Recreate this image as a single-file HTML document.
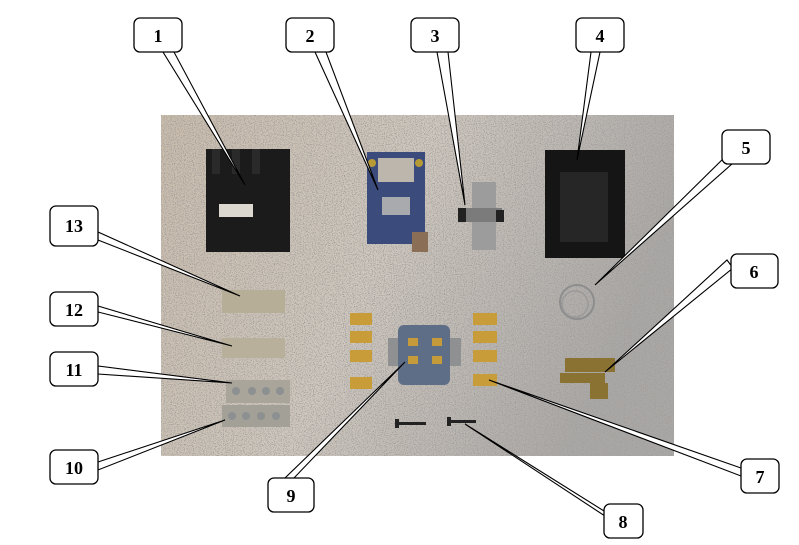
<!DOCTYPE html>
<html><head><meta charset="utf-8"><style>
html,body{margin:0;padding:0;background:#fff;}
svg{display:block}
text{font-family:"Liberation Serif",serif;font-weight:bold;font-size:18px}
</style></head><body>
<svg width="799" height="545" viewBox="0 0 799 545">
<defs>
<filter id="sp" x="0" y="0" width="100%" height="100%">
<feTurbulence type="fractalNoise" baseFrequency="0.9" numOctaves="2" seed="3" result="n"/>
<feColorMatrix in="n" type="matrix" values="0 0 0 0 0.35  0 0 0 0 0.33  0 0 0 0 0.32  0 0 -4 0 2.1" result="d"/>
<feComposite in="d" in2="SourceGraphic" operator="atop"/>
</filter>
<linearGradient id="bg" x1="0" y1="0" x2="1" y2="0.3">
<stop offset="0" stop-color="#c9bcab"/>
<stop offset="0.5" stop-color="#cfc8bf"/>
<stop offset="1" stop-color="#aaa8a6"/>
</linearGradient>
</defs>
<rect x="161" y="115" width="513" height="341" fill="url(#bg)" filter="url(#sp)"/>
<!-- 1 -->
<rect x="206" y="149" width="84" height="103" fill="#1c1b1b"/>
<rect x="212" y="149" width="8" height="25" fill="#2b2a2a"/><rect x="232" y="149" width="8" height="25" fill="#2b2a2a"/><rect x="252" y="149" width="8" height="25" fill="#2b2a2a"/>
<rect x="219" y="204" width="34" height="13" fill="#dcd8d0"/>
<!-- 2 -->
<rect x="367" y="152" width="58" height="92" fill="#3b4b7c"/>
<rect x="378" y="158" width="36" height="24" fill="#bdb6ac"/>
<rect x="382" y="197" width="28" height="18" fill="#a8aaae"/>
<rect x="412" y="232" width="16" height="20" fill="#8a6e55"/>
<circle cx="372" cy="163" r="4" fill="#b79a36"/><circle cx="419" cy="163" r="4" fill="#b79a36"/>
<!-- 3 -->
<rect x="472" y="182" width="24" height="68" fill="#9c9c9c"/>
<rect x="458" y="208" width="44" height="14" fill="#7b7b7b"/>
<rect x="458" y="208" width="8" height="14" fill="#222"/><rect x="496" y="210" width="8" height="12" fill="#222"/>
<!-- 4 -->
<rect x="545" y="150" width="80" height="108" fill="#151515"/>
<rect x="560" y="172" width="48" height="70" fill="#262626"/>
<!-- 5 spring -->
<circle cx="577" cy="302" r="17" fill="none" stroke="#8d8d8d" stroke-width="2"/>
<circle cx="575" cy="304" r="13" fill="none" stroke="#9a9a9a" stroke-width="1.5"/>
<!-- 6 screws -->
<g fill="#8a7233">
<rect x="565" y="358" width="50" height="14"/><rect x="560" y="373" width="45" height="10"/><rect x="590" y="383" width="18" height="16"/>
</g>
<!-- 13 12 11 10 -->
<rect x="222" y="290" width="63" height="23" fill="#b7ae98"/>
<rect x="222" y="338" width="63" height="20" fill="#b9b09b"/>
<rect x="226" y="380" width="64" height="23" fill="#a9a59b"/>
<rect x="222" y="405" width="68" height="22" fill="#a3a197"/>
<g fill="#8c9090"><circle cx="236" cy="391" r="4"/><circle cx="252" cy="391" r="4"/><circle cx="266" cy="391" r="4"/><circle cx="280" cy="391" r="4"/>
<circle cx="232" cy="416" r="4"/><circle cx="246" cy="416" r="4"/><circle cx="261" cy="416" r="4"/><circle cx="276" cy="416" r="4"/></g>
<!-- 9 -->
<rect x="388" y="338" width="12" height="28" fill="#8e9092"/><rect x="450" y="338" width="11" height="28" fill="#8e9092"/>
<rect x="398" y="325" width="52" height="60" rx="6" fill="#5d6e86"/>
<g fill="#c59a3a"><rect x="408" y="338" width="10" height="8"/><rect x="432" y="338" width="10" height="8"/><rect x="408" y="356" width="10" height="8"/><rect x="432" y="356" width="10" height="8"/></g>
<!-- terminals -->
<g fill="#c99c3a">
<rect x="350" y="313" width="22" height="12"/><rect x="350" y="331" width="22" height="12"/><rect x="350" y="350" width="22" height="12"/><rect x="350" y="377" width="22" height="12"/>
<rect x="473" y="313" width="24" height="12"/><rect x="473" y="331" width="24" height="12"/><rect x="473" y="350" width="24" height="12"/><rect x="473" y="374" width="24" height="12"/>
</g>
<!-- 8 screws -->
<rect x="396" y="422" width="30" height="3" fill="#222"/><rect x="395" y="419" width="4" height="9" fill="#222"/>
<rect x="448" y="420" width="28" height="3" fill="#222"/><rect x="447" y="417" width="4" height="9" fill="#222"/>
<!-- leaders -->
<g fill="#fff" stroke="#000" stroke-width="1.1" stroke-linejoin="miter">
<polygon points="163,52 174,52 245,185"/>
<polygon points="315,52 326,52 378,190"/>
<polygon points="437,52 448,52 465,205"/>
<polygon points="591,52 600,52 577,160"/>
<polygon points="727,155 733,163 595,285"/>
<polygon points="727,260 733,268 605,372"/>
<polygon points="741,468 741,476 489,380"/>
<polygon points="604,511 608,518 465,424"/>
<polygon points="285,478 294,478 405,362"/>
<polygon points="98,462 98,470 225,420"/>
<polygon points="98,366 98,374 232,383"/>
<polygon points="98,306 98,312 232,346"/>
<polygon points="98,232 98,240 240,296"/>
</g>
<!-- boxes -->
<g fill="#fff" stroke="#000" stroke-width="1.3">
<rect x="134" y="18" width="48" height="34" rx="6"/>
<rect x="286" y="18" width="48" height="34" rx="6"/>
<rect x="411" y="18" width="48" height="34" rx="6"/>
<rect x="576" y="18" width="48" height="34" rx="6"/>
<rect x="722" y="130" width="48" height="34" rx="6"/>
<rect x="731" y="254" width="47" height="34" rx="6"/>
<rect x="741" y="459" width="38" height="34" rx="6"/>
<rect x="604" y="504" width="39" height="34" rx="6"/>
<rect x="268" y="478" width="46" height="34" rx="6"/>
<rect x="50" y="450" width="48" height="34" rx="6"/>
<rect x="50" y="352" width="48" height="34" rx="6"/>
<rect x="50" y="292" width="48" height="34" rx="6"/>
<rect x="50" y="206" width="48" height="40" rx="6"/>
</g>
<g text-anchor="middle">
<text x="158" y="42">1</text><text x="310" y="42">2</text><text x="435" y="42">3</text><text x="600" y="42">4</text>
<text x="746" y="154">5</text><text x="754" y="278">6</text><text x="760" y="483">7</text><text x="623" y="528">8</text>
<text x="291" y="502">9</text><text x="74" y="474">10</text><text x="74" y="376">11</text><text x="74" y="316">12</text><text x="74" y="232">13</text>
</g>
</svg>
</body></html>
